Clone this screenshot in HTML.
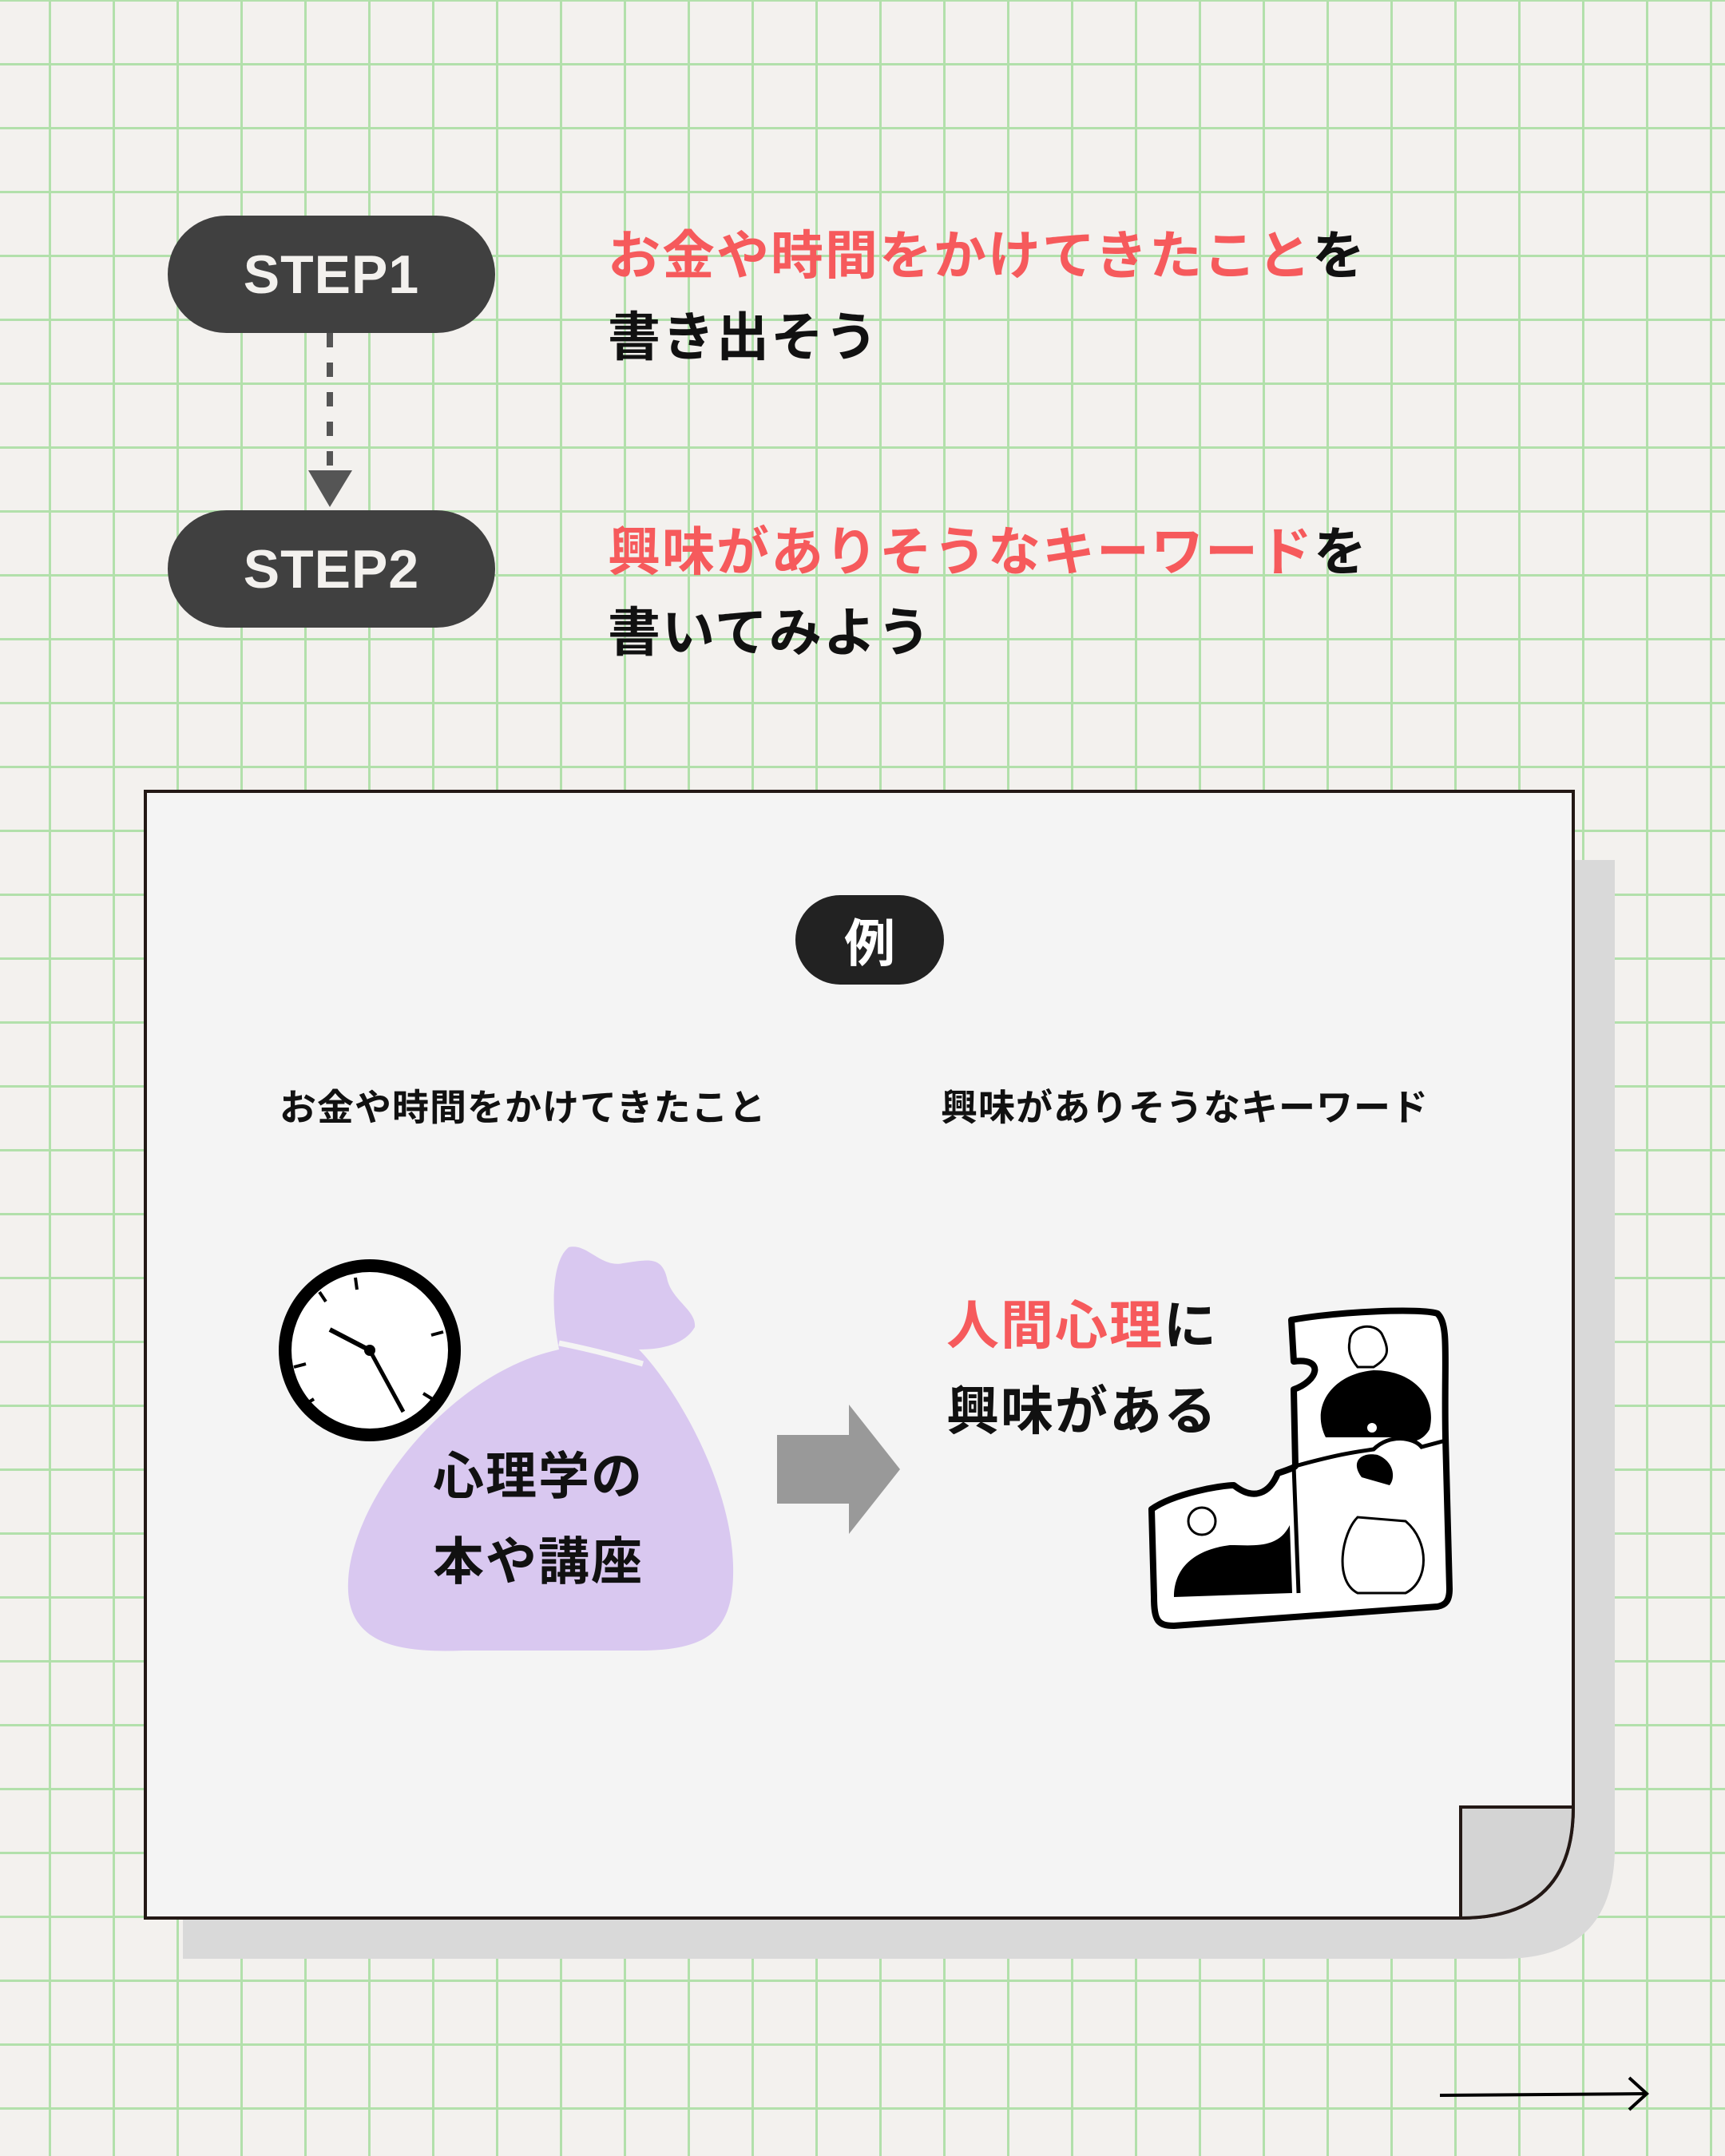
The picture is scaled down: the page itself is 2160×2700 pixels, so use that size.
<!DOCTYPE html>
<html><head><meta charset="utf-8"><style>
html,body{margin:0;padding:0}
body{width:2160px;height:2700px;position:relative;overflow:hidden;background-color:#f3f1ee;
background-image:linear-gradient(90deg,#b2e0ab 0,#b2e0ab 3px,transparent 3px),linear-gradient(180deg,#b2e0ab 0,#b2e0ab 3px,transparent 3px);
background-size:80px 80px;background-position:61px 0,0 -1px;font-family:"Liberation Sans","Noto Sans CJK JP",sans-serif;}
.abs{position:absolute}
.pill{position:absolute;background:#404040;color:#f3f1ee;border-radius:75px;display:flex;align-items:center;justify-content:center;font-family:"Liberation Sans",sans-serif;font-weight:700;font-size:68px;letter-spacing:1px}
.t{position:absolute;font-family:"Liberation Sans","Noto Sans CJK JP",sans-serif;font-weight:700;color:#111;white-space:nowrap}
.r{color:#f65a5c}
</style></head><body>
<div class="pill" style="left:210px;top:270px;width:410px;height:147px">STEP1</div>
<div class="pill" style="left:210px;top:639px;width:410px;height:147px">STEP2</div>
<svg class="abs" style="left:0;top:0" width="2160" height="2700">
<line x1="413" y1="417" x2="413" y2="590" stroke="#555" stroke-width="8" stroke-dasharray="18,19"/>
<polygon points="386,589 441,589 413,635" fill="#555"/>
</svg>
<div class="t" style="left:761px;top:280px;font-size:66px;line-height:80px;letter-spacing:2px"><span class="r">お金や時間をかけてきたこと</span>を</div>
<div class="t" style="left:761px;top:382px;font-size:66px;line-height:80px;letter-spacing:2px">書き出そう</div>
<div class="t" style="left:761px;top:651px;font-size:66px;line-height:80px;letter-spacing:2px"><span class="r">興味がありそうなキーワード</span>を</div>
<div class="t" style="left:761px;top:752px;font-size:66px;line-height:80px;letter-spacing:2px">書いてみよう</div>

<svg class="abs" style="left:0;top:0" width="2160" height="2700">
<path d="M229 1077 H2022 V2313 Q2022 2453 1882 2453 H229 Z" fill="#d9d9d9"/>
<path d="M182 991 H1970 V2263 Q1970 2402 1829 2402 H182 Z" fill="#f4f4f4" stroke="#231815" stroke-width="4"/>
<path d="M1829 2263 H1970 Q1970 2402 1829 2402 Z" fill="#d4d4d4" stroke="#231815" stroke-width="4"/>
<!-- clock -->
<circle cx="463" cy="1691" r="106" fill="#fff" stroke="#000" stroke-width="16"/>
<g stroke="#000" stroke-width="4">
<line x1="445" y1="1600" x2="447" y2="1615"/><line x1="540" y1="1672" x2="555" y2="1668"/>
<line x1="368" y1="1712" x2="383" y2="1708"/><line x1="400" y1="1618" x2="408" y2="1630"/>
<line x1="380" y1="1760" x2="393" y2="1752"/><line x1="530" y1="1745" x2="543" y2="1753"/>
</g>
<line x1="463" y1="1691" x2="413" y2="1665" stroke="#000" stroke-width="6"/>
<line x1="463" y1="1691" x2="505" y2="1768" stroke="#000" stroke-width="5"/>
<circle cx="463" cy="1691" r="7" fill="#000"/>
<!-- bag -->
<path d="M700 1690 C690 1640 690 1580 712 1562 C735 1556 752 1588 780 1582 C810 1578 828 1572 835 1600 C840 1628 872 1640 870 1662 C858 1683 830 1690 800 1690 Z" fill="#d9c8f0"/>
<path d="M700 1690 C560 1720 440 1880 436 1980 C432 2060 500 2070 580 2067 L800 2067 C890 2067 920 2040 918 1960 C915 1850 840 1730 800 1690 Z" fill="#d9c8f0"/>
<path d="M700 1682 Q750 1692 805 1708" stroke="#f4f4f4" stroke-width="7" fill="none"/>
<!-- gray arrow -->
<polygon points="973,1797 1063,1797 1063,1759 1127,1840 1063,1921 1063,1883 973,1883" fill="#999"/>
<!-- puzzle -->
<path d="M1617 1653 C1680 1642 1780 1638 1800 1645 C1815 1660 1808 1700 1810 1800 L1815 1990 C1815 2005 1810 2010 1800 2012 L1470 2036 C1450 2036 1445 2030 1445 2000 L1442 1890 C1470 1870 1530 1860 1545 1860 C1570 1880 1590 1870 1600 1845 C1615 1840 1620 1838 1622 1836 L1620 1740 C1650 1730 1660 1700 1620 1705 Z" fill="#fff" stroke="#000" stroke-width="8" stroke-linejoin="round"/>
<path d="M1620 1836 L1626 1995 M1622 1836 C1680 1820 1700 1818 1720 1815 C1740 1795 1770 1800 1780 1812 L1810 1804" stroke="#000" stroke-width="5" fill="none"/>
<path d="M1660 1800 C1640 1760 1670 1720 1720 1716 C1770 1716 1800 1750 1790 1790 C1780 1808 1760 1808 1758 1800 L1700 1800 Z" fill="#000"/>
<circle cx="1718" cy="1788" r="6" fill="#fff"/>
<path d="M1690 1680 C1690 1660 1720 1655 1730 1670 C1740 1690 1740 1700 1720 1712 L1700 1712 C1690 1700 1688 1690 1690 1680Z" fill="none" stroke="#000" stroke-width="3"/>
<path d="M1470 2000 C1470 1960 1500 1940 1540 1935 C1570 1935 1600 1940 1615 1910 L1618 1995 Z" fill="#000"/>
<circle cx="1505" cy="1905" r="17" fill="none" stroke="#000" stroke-width="3"/>
<path d="M1705 1850 C1690 1830 1705 1818 1725 1822 C1745 1830 1748 1850 1740 1860 Z" fill="#000"/>
<path d="M1700 1900 C1680 1920 1670 1980 1700 1995 L1760 1995 C1790 1980 1790 1930 1760 1905 Z" fill="none" stroke="#000" stroke-width="3"/>
<!-- bottom arrow -->
<line x1="1803" y1="2624" x2="2060" y2="2622" stroke="#000" stroke-width="4"/>
<polyline points="2040,2602 2062,2622 2040,2642" stroke="#000" stroke-width="4" fill="none"/>
</svg>

<div class="abs" style="left:996px;top:1121px;width:186px;height:112px;border-radius:56px;background:#222;color:#fff;font-family:'Noto Sans CJK JP',sans-serif;font-weight:700;font-size:64px;display:flex;align-items:center;justify-content:center">例</div>
<div class="t" style="left:350px;top:1357px;font-size:46px;line-height:60px;font-weight:700;letter-spacing:1px">お金や時間をかけてきたこと</div>
<div class="t" style="left:1178px;top:1357px;font-size:46px;line-height:60px;font-weight:700;letter-spacing:1px">興味がありそうなキーワード</div>
<div class="t" style="left:542px;top:1796px;font-size:64px;line-height:107px;letter-spacing:2px">心理学の<br>本や講座</div>
<div class="t" style="left:1185px;top:1607px;font-size:66px;line-height:107px;letter-spacing:2px"><span class="r">人間心理</span>に<br>興味がある</div>
</body></html>
